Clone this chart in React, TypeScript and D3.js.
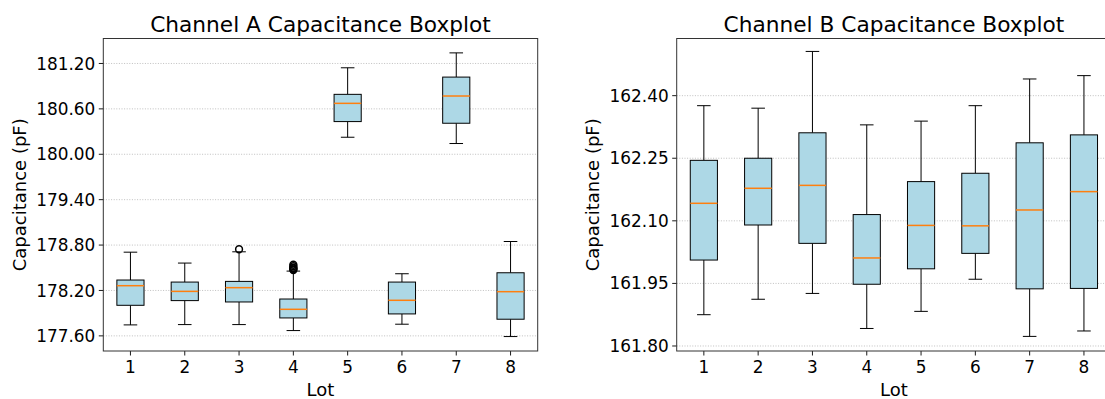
import * as d3 from 'd3';

// Lots on the x axis
const lots = [1, 2, 3, 4, 5, 6, 7, 8];

// Channel A box stats (pF)
const aLow = [177.745, 177.749, 177.749, 177.670, 180.225, 177.754, 180.142, 177.591];
const aQ1 = [178.004, 178.066, 178.048, 177.837, 180.432, 177.890, 180.410, 177.820];
const aMed = [178.263, 178.188, 178.237, 177.951, 180.673, 178.070, 180.770, 178.184];
const aQ3 = [178.338, 178.311, 178.320, 178.087, 180.792, 178.311, 181.020, 178.434];
const aHigh = [178.706, 178.562, 178.711, 178.456, 181.143, 178.421, 181.340, 178.847];
const aOutliers = [[], [], [178.745], [178.54, 178.52, 178.50, 178.49, 178.48, 178.47], [], [], [], []];
const aTicks = [177.6, 178.2, 178.8, 179.4, 180.0, 180.6, 181.2];

// Channel B box stats (pF)
const bLow = [161.875, 161.912, 161.926, 161.842, 161.883, 161.960, 161.823, 161.836];
const bQ1 = [162.006, 162.090, 162.046, 161.948, 161.985, 162.022, 161.937, 161.938];
const bMed = [162.142, 162.178, 162.185, 162.011, 162.089, 162.088, 162.126, 162.170];
const bQ3 = [162.245, 162.250, 162.311, 162.115, 162.194, 162.214, 162.287, 162.306];
const bHigh = [162.376, 162.370, 162.506, 162.330, 162.339, 162.376, 162.440, 162.448];
const bOutliers = [[], [], [], [], [], [], [], []];
const bTicks = [161.8, 161.95, 162.1, 162.25, 162.4];

const font = 'DejaVu Sans, sans-serif';
const top = 38.5;
const bottom = 351;
const plotW = 434.4;

function Panel({ left, title, domain, ticks, low, q1, med, q3, high, outliers }) {
    const x = d3.scaleLinear().domain([0.5, 8.5]).range([left, left + plotW]);
    const y = d3.scaleLinear().domain(domain).range([bottom, top]);
    const step = x(2) - x(1);
    const boxW = step * 0.5;
    const capW = step * 0.25;
    const cx = (left + left + plotW) / 2;

    return (
        <g>
            <text x={cx} y={32} textAnchor="middle" fontSize={21.7} fontFamily={font} fill="#000">{title}</text>
            {ticks.map(t => (
                <g key={t}>
                    <line x1={left} x2={left + plotW} y1={y(t)} y2={y(t)} stroke="#b0b0b0" strokeWidth={0.8} strokeDasharray="1,1.6" />
                    <line x1={left - 4.5} x2={left} y1={y(t)} y2={y(t)} stroke="#000" strokeWidth={0.9} />
                    <text x={left - 8} y={y(t)} dy="0.36em" textAnchor="end" fontSize={16.9} fontFamily={font}>{t.toFixed(2)}</text>
                </g>
            ))}
            {lots.map((lot, i) => {
                const px = x(lot);
                return (
                    <g key={lot}>
                        <line x1={px} x2={px} y1={y(high[i])} y2={y(q3[i])} stroke="#000" strokeWidth={1} />
                        <line x1={px} x2={px} y1={y(q1[i])} y2={y(low[i])} stroke="#000" strokeWidth={1} />
                        <line x1={px - capW / 2} x2={px + capW / 2} y1={y(high[i])} y2={y(high[i])} stroke="#000" strokeWidth={1} />
                        <line x1={px - capW / 2} x2={px + capW / 2} y1={y(low[i])} y2={y(low[i])} stroke="#000" strokeWidth={1} />
                        <rect x={px - boxW / 2} y={y(q3[i])} width={boxW} height={y(q1[i]) - y(q3[i])} fill="#add8e6" stroke="#000" strokeWidth={1} />
                        <line x1={px - boxW / 2} x2={px + boxW / 2} y1={y(med[i])} y2={y(med[i])} stroke="#ff7f0e" strokeWidth={1.5} />
                        {outliers[i].map((o, j) => (
                            <circle key={j} cx={px} cy={y(o)} r={3.4} fill="none" stroke="#000" strokeWidth={1.5} />
                        ))}
                        <line x1={px} x2={px} y1={bottom} y2={bottom + 4.5} stroke="#000" strokeWidth={0.9} />
                        <text x={px} y={bottom + 22} textAnchor="middle" fontSize={16.9} fontFamily={font}>{lot}</text>
                    </g>
                );
            })}
            <rect x={left} y={top} width={plotW} height={bottom - top} fill="none" stroke="#333" strokeWidth={1} />
            <text x={cx} y={395.5} textAnchor="middle" fontSize={18} fontFamily={font}>Lot</text>
            <text transform={`translate(${left - 77.5},${(top + bottom) / 2}) rotate(-90)`} textAnchor="middle" fontSize={18} fontFamily={font}>Capacitance (pF)</text>
        </g>
    );
}

export default function App() {
    return (
        <svg width={1105} height={399} style={{ position: 'absolute', left: 0, top: 0, background: '#fff' }}>
            <rect width={1105} height={399} fill="#fff" />
            <Panel left={103.3} title="Channel A Capacitance Boxplot" domain={[177.40, 181.53]} ticks={aTicks}
                low={aLow} q1={aQ1} med={aMed} q3={aQ3} high={aHigh} outliers={aOutliers} />
            <Panel left={676.7} title="Channel B Capacitance Boxplot" domain={[161.788, 162.537]} ticks={bTicks}
                low={bLow} q1={bQ1} med={bMed} q3={bQ3} high={bHigh} outliers={bOutliers} />
        </svg>
    );
}
